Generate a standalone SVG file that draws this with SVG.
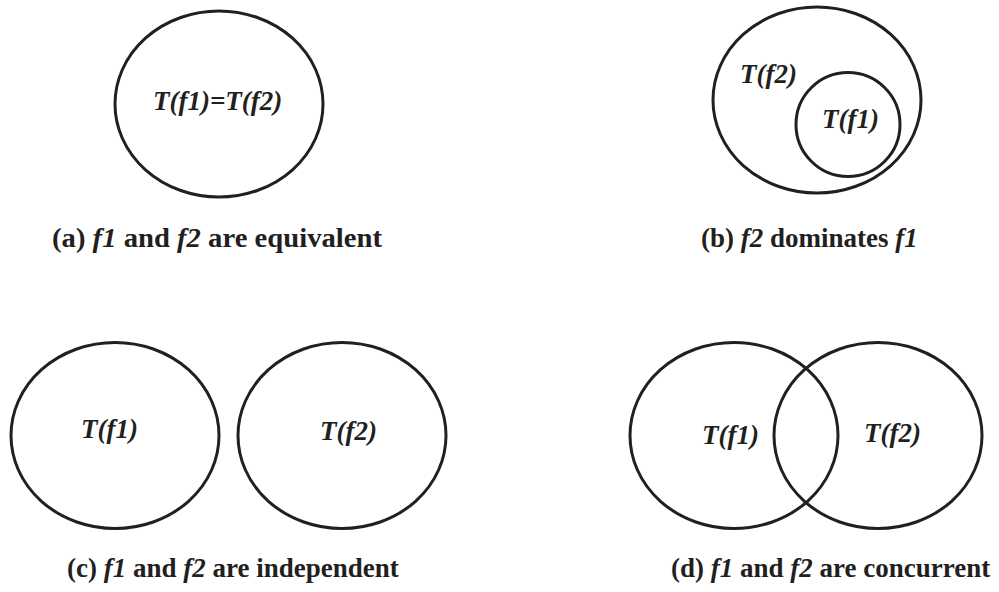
<svg xmlns="http://www.w3.org/2000/svg" width="999" height="592" viewBox="0 0 999 592">
<style>
.c{fill:none;stroke:#231f20;stroke-width:3}
.l{font-family:"Liberation Serif","Times New Roman",serif;font-weight:bold;font-style:italic;font-size:27px;fill:#231f20}
.cap{font-family:"Liberation Serif","Times New Roman",serif;font-weight:bold;font-size:27px;fill:#231f20}
.i{font-style:italic}
</style>
<rect width="999" height="592" fill="#fff"/>
<g id="a">
<ellipse class="c" cx="219" cy="104" rx="104" ry="93"/>
<text class="l" x="153" y="110">T(f1)=T(f2)</text>
<text class="cap" x="52" y="247" textLength="330" lengthAdjust="spacingAndGlyphs">(a) <tspan class="i">f1</tspan> and <tspan class="i">f2</tspan> are equivalent</text>
</g>
<g id="b">
<ellipse class="c" cx="817" cy="100" rx="104" ry="93"/>
<ellipse class="c" cx="848" cy="124.5" rx="52" ry="52"/>
<text class="l" x="740" y="83">T(f2)</text>
<text class="l" x="822" y="128">T(f1)</text>
<text class="cap" x="701" y="247">(b) <tspan class="i">f2</tspan> dominates <tspan class="i">f1</tspan></text>
</g>
<g id="c">
<ellipse class="c" cx="115" cy="435.5" rx="104" ry="93"/>
<ellipse class="c" cx="342" cy="435.5" rx="104" ry="93"/>
<text class="l" x="81" y="438">T(f1)</text>
<text class="l" x="320" y="440">T(f2)</text>
<text class="cap" x="67" y="577">(c) <tspan class="i">f1</tspan> and <tspan class="i">f2</tspan> are independent</text>
</g>
<g id="d">
<ellipse class="c" cx="734" cy="435.5" rx="104" ry="93"/>
<ellipse class="c" cx="878" cy="435.5" rx="104" ry="93"/>
<text class="l" x="702" y="444">T(f1)</text>
<text class="l" x="864" y="442">T(f2)</text>
<text class="cap" x="671" y="577">(d) <tspan class="i">f1</tspan> and <tspan class="i">f2</tspan> are concurrent</text>
</g>
<g id="connectors"/>
</svg>
